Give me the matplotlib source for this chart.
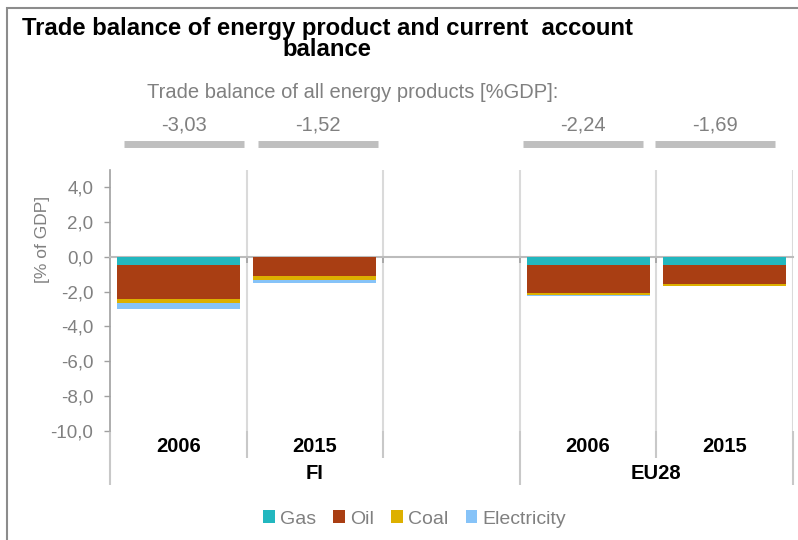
import matplotlib.pyplot as plt
from matplotlib.patches import Rectangle
from matplotlib.ticker import FuncFormatter

plt.rcParams['font.family'] = ['Liberation Sans', 'DejaVu Sans']

# donnees
years = ['2006', '2015', '', '2006', '2015']
regions = ['FI', 'EU28']
gas = [-0.46, -0.04, 0, -0.50, -0.50]
oil = [-1.97, -1.05, 0, -1.59, -1.05]
coal = [-0.25, -0.22, 0, -0.13, -0.12]
electricity = [-0.35, -0.21, 0, -0.02, -0.02]
totals = ['-3,03', '-1,52', '', '-2,24', '-1,69']

colors = {'Gas': '#22B7BF', 'Oil': '#A93E13', 'Coal': '#DDB000', 'Electricity': '#86C3F8'}
grey_txt = '#808080'

fig = plt.figure(figsize=(7.98, 5.4), dpi=100)
ax = fig.add_axes([110 / 798, 1 - 431 / 540, 683 / 798, 261.5 / 540])

x = list(range(len(years)))
bottom = [0.0] * len(x)
for name, vals in [('Gas', gas), ('Oil', oil), ('Coal', coal), ('Electricity', electricity)]:
    ax.bar(x, vals, 0.9, bottom=bottom, color=colors[name], label=name, zorder=3)
    bottom = [b + v for b, v in zip(bottom, vals)]

ax.set_xlim(-0.5, 4.5)
ax.set_ylim(-10, 5)
ax.set_yticks(range(-10, 5, 2))
ax.yaxis.set_major_formatter(FuncFormatter(lambda v, p: f"{v:.1f}".replace('.', ',')))
ax.tick_params(axis='y', colors='#a0a0a0', labelcolor=grey_txt, labelsize=13.5, length=4, width=1, pad=8)
ax.set_xticks([0.5, 1.5, 2.5, 3.5])
ax.tick_params(axis='x', length=4, width=1.2, colors='#a0a0a0', labelbottom=False)
ax.grid(axis='x', color='#dadada', lw=1.5, zorder=0)
ax.axvline(4.5, color='#dadada', lw=1.5, zorder=0)

for s in ['top', 'right']:
    ax.spines[s].set_visible(False)
ax.spines['bottom'].set_position(('data', 0))
ax.spines['bottom'].set_color('#bcbcbc')
ax.spines['bottom'].set_linewidth(1.5)
ax.spines['left'].set_color('#a0a0a0')
ax.spines['left'].set_linewidth(1.2)
ax.spines['left'].set_bounds(-10, 5)

ax.set_ylabel('[% of GDP]', color=grey_txt, fontsize=12.5)
ax.yaxis.set_label_coords(-0.088, 0.734)

# axe des categories en bas
trans = ax.get_xaxis_transform()
for i, y in enumerate(years):
    if y:
        ax.text(i, -0.058, y, transform=trans, ha='center', va='center', fontsize=14.5, fontweight='bold')
ax.text(1, -0.163, regions[0], transform=trans, ha='center', va='center', fontsize=14.5, fontweight='bold')
ax.text(3.5, -0.163, regions[1], transform=trans, ha='center', va='center', fontsize=14.5, fontweight='bold')
ax.vlines([0.5, 1.5, 3.5], -0.103, 0, transform=trans, colors='#c8c8c8', lw=1.5, clip_on=False)
ax.vlines([-0.5, 2.5, 4.5], -0.207, 0, transform=trans, colors='#c8c8c8', lw=1.5, clip_on=False)

# barres grises des totaux
shift = [0.04, 0.02, 0, -0.04, -0.07]
for i, t in enumerate(totals):
    if t:
        c = i + shift[i]
        ax.hlines(1.096, c - 0.44, c + 0.44, transform=trans, colors='#bfbfbf', lw=5, clip_on=False)
        ax.text(c, 1.17, t, transform=trans, ha='center', va='center', fontsize=14.5, color=grey_txt)
ax.text(1.28, 1.295, 'Trade balance of all energy products [%GDP]:', transform=trans,
        ha='center', va='center', fontsize=14.5, color=grey_txt)

fig.text(327 / 798, 1 - 39 / 540, 'Trade balance of energy product and current  account\nbalance',
         ha='center', va='center', fontsize=17.2, fontweight='bold', linespacing=0.92)

leg = ax.legend(loc='center', bbox_to_anchor=(0.5 - 37 / 683, -(519 - 431) / 261.5), ncol=4, frameon=False,
                fontsize=14, handlelength=0.6, handleheight=0.6, handletextpad=0.25, columnspacing=0.9)
for t in leg.get_texts():
    t.set_color(grey_txt)

fig.patches.append(Rectangle((7 / 798, -0.1), 1.2, 1.1 - 8 / 540, transform=fig.transFigure,
                             fill=False, edgecolor='#8c8c8c', lw=1.5))

fig.savefig('out.png', dpi=100)
